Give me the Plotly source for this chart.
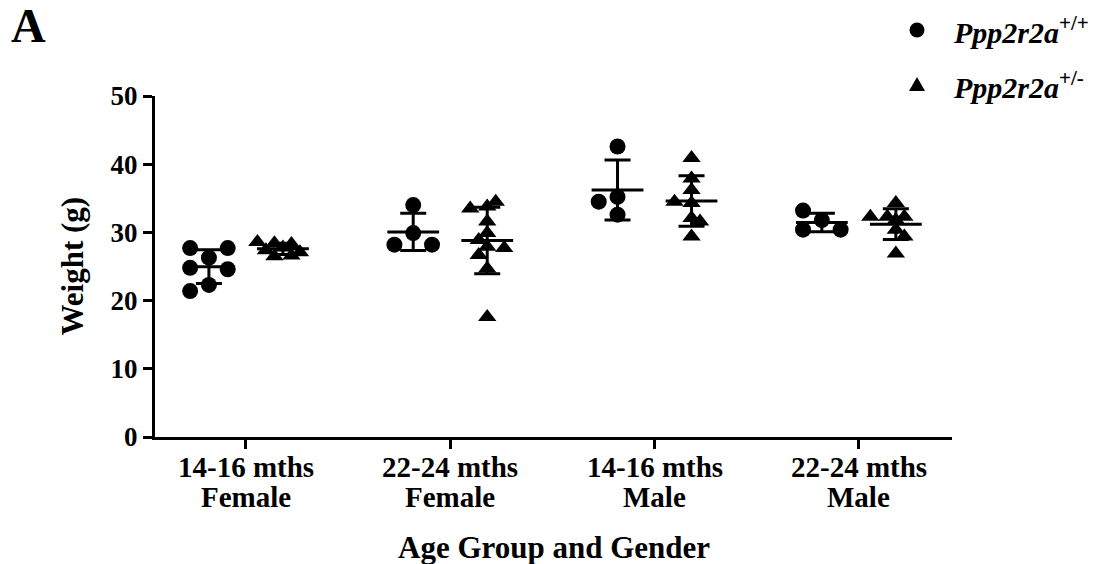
import numpy as np
import plotly.graph_objects as go

# ---------------- data ----------------
cat_age = ["14-16 mths", "22-24 mths", "14-16 mths", "22-24 mths"]
cat_sex = ["Female", "Female", "Male", "Male"]
series_names = ["<i>Ppp2r2a</i><sup>+/+</sup>", "<i>Ppp2r2a</i><sup>+/-</sup>"]

wt_f14 = [26.3, 27.7, 27.7, 24.8, 24.6, 22.3, 21.4]
wt_f22 = [34.0, 29.9, 28.2, 28.2]
wt_m14 = [42.6, 32.6, 35.2, 34.5]
wt_m22 = [31.8, 33.2, 30.4, 30.4]

het_f14 = [27.8, 28.4, 28.3, 27.4, 27.1, 28.6, 26.6, 26.5]
het_f22 = [33.8, 33.5, 34.5, 31.6, 29.9, 28.9, 27.9, 27.7, 26.7, 24.7, 17.6]
het_m14 = [40.9, 37.9, 36.2, 34.3, 34.5, 32.1, 31.6, 29.4]
het_m22 = [34.3, 31.8, 32.3, 32.3, 32.3, 30.4, 29.4, 26.9]

y_ticks = [0, 10, 20, 30, 40, 50]

wt_groups = [wt_f14, wt_f22, wt_m14, wt_m22]
het_groups = [het_f14, het_f22, het_m14, het_m22]

# ---------------- layout constants ----------------
W, H = 1105, 564
ML, MR, MT, MB = 155, 153, 96, 127
X_RANGE = [-0.445, 3.456]
Y_RANGE = [0, 50]
plot_w = W - ML - MR
plot_h = H - MT - MB
px_per_x = plot_w / (X_RANGE[1] - X_RANGE[0])
px_per_y = plot_h / (Y_RANGE[1] - Y_RANGE[0])
GROUP_OFF = 37 / px_per_x
FONT = "Liberation Serif"


def py2paper(py):
    return (H - MB - py) / plot_h


def px2paper(px):
    return (px - ML) / plot_w


def swarm(vals, step, dmin):
    """Simple beeswarm: horizontal offsets (in x units) avoiding overlap."""
    placed = []
    offs = []
    for v in vals:
        y = v * px_per_y
        chosen = 0.0
        found = False
        for k in range(0, 20):
            if k == 0:
                cands = [0.0]
            else:
                left = sum(1 for p in placed if p[0] < 0)
                right = sum(1 for p in placed if p[0] > 0)
                cands = [-k * step, k * step] if left <= right else [k * step, -k * step]
            for c in cands:
                if all((c - px) ** 2 + (y - py) ** 2 >= dmin ** 2 for px, py in placed):
                    chosen = c
                    found = True
                    break
            if found:
                break
        placed.append((chosen, y))
        offs.append(chosen / px_per_x)
    return offs


fig = go.Figure()

specs = [
    (wt_groups, -GROUP_OFF, "circle", 16, 9.4, 17.0),
    (het_groups, GROUP_OFF, "triangle-up", 16, 8.5, 9.0),
]

# points
for groups, off, sym, size, step, dmin in specs:
    for gi, vals in enumerate(groups):
        jit = swarm(vals, step, dmin)
        xs = [gi + off + j for j in jit]
        fig.add_trace(go.Scatter(
            x=xs, y=vals, mode="markers",
            marker=dict(symbol=sym, size=size, color="black", line=dict(width=0)),
            showlegend=False, hoverinfo="y", cliponaxis=False,
        ))

# mean +/- SD
for groups, off, *_ in specs:
    means = [float(np.mean(v)) for v in groups]
    sds = [float(np.std(v, ddof=1)) for v in groups]
    fig.add_trace(go.Scatter(
        x=[gi + off for gi in range(len(groups))], y=means, mode="markers",
        marker=dict(symbol="line-ew", size=37, color="black",
                    line=dict(width=3, color="black")),
        error_y=dict(type="data", array=sds, visible=True, color="black",
                     thickness=3, width=13),
        showlegend=False, hoverinfo="y", cliponaxis=False,
    ))

fig.update_layout(
    width=W, height=H,
    margin=dict(l=ML, r=MR, t=MT, b=MB),
    paper_bgcolor="white", plot_bgcolor="white",
    font=dict(family=FONT, color="black"),
    showlegend=False,
)

fig.update_xaxes(
    range=X_RANGE, tickvals=list(range(len(cat_age))), showticklabels=False,
    showline=True, linecolor="black", linewidth=3,
    ticks="outside", ticklen=9, tickwidth=3, tickcolor="black",
    showgrid=False, zeroline=False,
)
fig.update_yaxes(
    range=Y_RANGE, tickvals=y_ticks,
    showline=True, linecolor="black", linewidth=3,
    ticks="outside", ticklen=9, tickwidth=3, tickcolor="black",
    showgrid=False, zeroline=False,
    tickfont=dict(family=FONT, size=27, color="black", weight="bold"),
)

# category labels (two tight lines as in reference)
for i, (a, s) in enumerate(zip(cat_age, cat_sex)):
    for txt, py in ((a, 467), (s, 497)):
        fig.add_annotation(text="<b>" + txt + "</b>", xref="x", yref="paper",
                           x=i, y=py2paper(py), xanchor="center", yanchor="middle",
                           showarrow=False, font=dict(family=FONT, size=29, color="black"))

# axis titles and panel label
fig.add_annotation(text="<b>Age Group and Gender</b>", xref="paper", yref="paper",
                   x=0.5, y=py2paper(547), xanchor="center", yanchor="middle",
                   showarrow=False, font=dict(family=FONT, size=31, color="black"))
fig.add_annotation(text="<b>Weight (g)</b>", xref="paper", yref="paper",
                   x=px2paper(72), y=0.5, xanchor="center", yanchor="middle",
                   textangle=-90, showarrow=False, font=dict(family=FONT, size=31, color="black"))
fig.add_annotation(text="<b>A</b>", xref="paper", yref="paper",
                   x=px2paper(28), y=py2paper(26), xanchor="center", yanchor="middle",
                   showarrow=False, font=dict(family=FONT, size=48, color="black"))

# manual legend
leg_rows = [(30, "circle"), (85, "triangle")]
for (py, kind), name in zip(leg_rows, series_names):
    xp = px2paper(917)
    yp = py2paper(py)
    if kind == "circle":
        fig.add_shape(type="circle", xref="paper", yref="paper",
                      xsizemode="pixel", ysizemode="pixel", xanchor=xp, yanchor=yp,
                      x0=-7.5, x1=7.5, y0=-7.5, y1=7.5,
                      fillcolor="black", line=dict(width=0))
    else:
        fig.add_shape(type="path", xref="paper", yref="paper",
                      xsizemode="pixel", ysizemode="pixel", xanchor=xp, yanchor=yp,
                      path="M -8 -6 L 8 -6 L 0 8 Z",
                      fillcolor="black", line=dict(width=0))
    fig.add_annotation(text="<b>" + name + "</b>", xref="paper", yref="paper",
                       x=px2paper(951), y=yp,
                       xanchor="left", yanchor="middle", showarrow=False,
                       font=dict(family=FONT, size=30, color="black"))

fig.write_html("out.html", config={"displayModeBar": False},
               post_script="document.body.style.margin='0';")
